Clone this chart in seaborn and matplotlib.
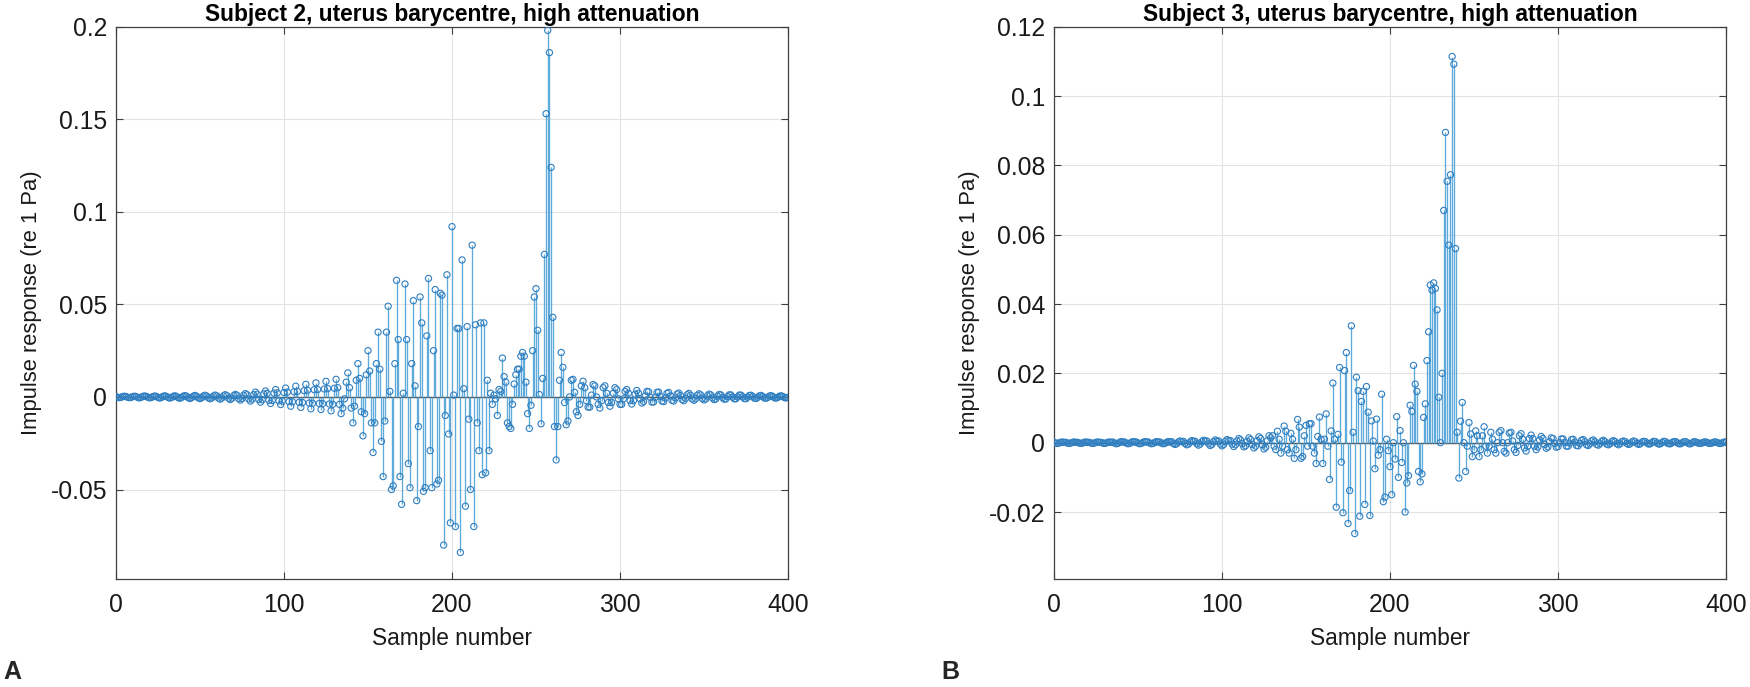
import numpy as np
import pandas as pd
import matplotlib
matplotlib.use("Agg")
import matplotlib.pyplot as plt
import seaborn as sns

# ---------------- data (impulse responses, Pa) ----------------
# Subject 2 (panel A), samples 0..132
subj2_rise = [
    .0002, -.0002, -.0004, -.0002, .0002, .0004, .0002, -.0002, -.0004, -.0002, .0002, .0004,
    .0002, -.0003, -.0005, -.0002, .0003, .0005, .0003, -.0002, -.0005, -.0003, .0002, .0005,
    .0003, -.0003, -.0006, -.0003, .0003, .0006, .0003, -.0003, -.0006, -.0003, .0003, .0006,
    .0003, -.0004, -.0007, -.0003, .0004, .0007, .0004, -.0004, -.0008, -.0004, .0004, .0008,
    .0004, -.0005, -.0009, -.0004, .0005, .0009, .0005, -.0005, -.0010, -.0005, .0005, .0010,
    .0006, -.0006, -.0012, -.0006, .0006, .0012, .0007, -.0007, -.0014, -.0007, .0007, .0014,
    .0009, -.0009, -.0017, -.0009, .0009, .0018, .0012, -.0011, -.0022, -.0012, .0012, .0026,
    .0015, -.0014, -.0028, -.0015, .0016, .0032, .0019, -.0018, -.0035, -.0019, .0021, .0040,
    .0022, -.0021, -.0041, -.0022, .0024, .0048, .0026, -.0025, -.0050, -.0026, .0028, .0058,
    .0030, -.0029, -.0056, -.0030, .0034, .0068, .0036, -.0033, -.0064, -.0034, .0039, .0076,
    .0040, -.0035, -.0068, -.0036, .0043, .0084, .0045, -.0038, -.0075, -.0040, .0047, .0095,
    .0050,
]
# Subject 2, samples 133..270
subj2_main = [
    -0.004, -0.009, -0.006, -0.001, 0.008, 0.013, 0.005, -0.006, -0.014, -0.005,
    0.009, 0.018, 0.010, -0.008, -0.021, -0.009, 0.012, 0.025, 0.014, -0.014,
    -0.030, -0.014, 0.018, 0.035, 0.015, -0.024, -0.043, -0.013, 0.035, 0.049,
    0.003, -0.050, -0.048, 0.018, 0.063, 0.031, -0.043, -0.058, 0.002, 0.061,
    0.031, -0.036, -0.049, 0.018, 0.052, 0.006, -0.056, -0.016, 0.054, 0.040,
    -0.051, -0.049, 0.033, 0.064, -0.029, -0.049, 0.025, 0.058, -0.047, -0.045,
    0.056, 0.055, -0.080, -0.010, 0.066, -0.020, -0.068, 0.092, 0.001, -0.070,
    0.037, 0.037, -0.084, 0.074, 0.0045, -0.059, 0.038, -0.012, -0.050, 0.082,
    -0.070, 0.039, -0.014, -0.029, 0.040, -0.042, 0.040, -0.041, 0.009, -0.029,
    0.002, -0.004, 0.001, -0.001, -0.010, 0.004, 0.003, 0.021, 0.011, 0.008,
    -0.014, -0.016, -0.017, -0.004, 0.007, 0.012, 0.015, 0.015, 0.022, 0.024,
    0.022, 0.008, -0.009, -0.017, -0.0045, 0.025, 0.054, 0.0585, 0.036, 0.0013,
    -0.0145, 0.010, 0.077, 0.153, 0.198, 0.186, 0.124, 0.043, -0.016, -0.034,
    -0.016, 0.009, 0.024, 0.016, -0.003, -0.015, -0.013, 0.000,
]
# Subject 2, samples 271..400
subj2_decay = [
    0.009, 0.0095, 0.0025, -0.008, -0.010, -0.004, 0.006, 0.0085, 0.005, -0.002,
    -0.0055, -0.0055, 0.001, 0.0067, 0.006, 0.000, -0.004, -0.006, -0.002, 0.005,
    0.006, 0.002, -0.003, -0.005, -0.003, 0.002, 0.005, 0.004, -0.001, -0.004,
    -0.004, -0.001, 0.003, 0.004, 0.002, -0.002, -0.0038, -0.002, 0.0015, 0.0035,
    0.002, -0.001, -0.0033, -0.0025, 0.0005, 0.003, 0.0028, -0.0002, -0.0028, -0.0027,
    -0.0002, 0.0025, 0.0026, 0.0003, -0.0022, -0.0025, -0.0005, 0.002, 0.0024, 0.0006,
    -0.0018, -0.0022, -0.0006, 0.0016, 0.0021, 0.0008, -0.0014, -0.002, -0.0008, 0.0012,
    0.0019, 0.0009, -0.0011, -0.0018, -0.001, 0.0009, 0.0017, 0.0011, -0.0008, -0.0016,
    -0.0011, 0.0006, 0.0015, 0.0011, -0.0005, -0.0014, -0.0011, 0.0004, 0.0013, 0.0011,
    -0.0003, -0.0012, -0.0011, 0.0002, 0.0011, 0.0011, -0.0001, -0.001, -0.001, 0.0,
    0.001, 0.001, 0.0001, -0.0009, -0.0009, -0.0001, 0.0008, 0.0009, 0.0002, -0.0007,
    -0.0008, -0.0002, 0.0006, 0.0008, 0.0002, -0.0006, -0.0007, -0.0002, 0.0005, 0.0007,
    0.0002, -0.0005, -0.0006, -0.0002, 0.0004, 0.0006, 0.0002, -0.0004, -0.0005, -0.0002,
]

# Subject 3 (panel B), samples 0..129
subj3_rise = [
    0.0001, -0.0001, -0.0002, -0.0001, 0.0001, 0.0002, 0.0001,
    0.0001, -0.0001, -0.0002, -0.0001, 0.0001, 0.0002, 0.0001,
    0.0001, -0.0001, -0.0002, -0.0001, 0.0001, 0.0002, 0.0001,
    0.0001, -0.0001, -0.0002, -0.0001, 0.0001, 0.0002, 0.0001,
    0.0001, -0.0001, -0.0002, -0.0001, 0.0001, 0.0002, 0.0001,
    0.0002, -0.0001, -0.0003, -0.0002, 0.0001, 0.0003, 0.0002,
    0.0002, -0.0001, -0.0003, -0.0002, 0.0001, 0.0003, 0.0002,
    0.0002, -0.0001, -0.0003, -0.0002, 0.0001, 0.0003, 0.0002,
    0.0002, -0.0001, -0.0003, -0.0002, 0.0001, 0.0003, 0.0002,
    0.0002, -0.0001, -0.0003, -0.0002, 0.0001, 0.0003, 0.0002,
    0.0003, -0.0002, -0.0005, -0.0003, 0.0002, 0.0005, 0.0003,
    0.0004, -0.0002, -0.0006, -0.0004, 0.0002, 0.0006, 0.0004,
    0.0004, -0.0003, -0.0007, -0.0004, 0.0003, 0.0007, 0.0005,
    0.0005, -0.0003, -0.0008, -0.0005, 0.0003, 0.0008, 0.0005,
    0.0005, -0.0004, -0.0009, -0.0005, 0.0004, 0.0009, 0.0006,
    0.0006, -0.0004, -0.0011, -0.0006, 0.0005, 0.0012, 0.0008, -0.0003, -0.0012, -0.0009,
    0.0004, 0.0014, 0.0009, -0.0005, -0.0015, -0.001, 0.0006, 0.0017, 0.0012, -0.0006,
    -0.0018, -0.0013, 0.0006, 0.002, 0.0014,
]
# Subject 3, samples 130..260
subj3_main = [
    0.002, -0.001, -0.002, 0.0033, 0.001, -0.003, -0.001, 0.0048, 0.0033, -0.002,
    -0.003, 0.0027, 0.001, -0.0045, -0.002, 0.0067, 0.0045, -0.0045, -0.004, 0.002,
    0.005, -0.001, 0.0055, 0.0055, -0.001, -0.003, -0.006, 0.0018, 0.0074, 0.001,
    -0.006, 0.001, 0.0083, -0.001, -0.0106, 0.0034, 0.0172, 0.001, -0.0186, 0.0024,
    0.0217, -0.0056, -0.0202, 0.0208, 0.026, -0.0233, -0.0138, 0.0337, 0.003, -0.0262,
    0.0189, 0.015, -0.0212, 0.0119, 0.0148, -0.0178, 0.0162, 0.0088, -0.021, 0.0063,
    0.0005, -0.0075, 0.0068, -0.0036, -0.002, 0.014, -0.017, -0.0157, 0.001, -0.0023,
    -0.0069, -0.015, 0.000, -0.0047, 0.0075, -0.010, 0.0035, -0.0057, 0.000, -0.020,
    -0.0116, -0.0095, 0.0108, 0.009, 0.0223, 0.0169, 0.0148, -0.0083, -0.0113, -0.009,
    0.0073, 0.0112, 0.0237, 0.032, 0.0455, 0.044, 0.0461, 0.0445, 0.0383, 0.0131,
    0.000, 0.020, 0.067, 0.0895, 0.0754, 0.057, 0.0773, 0.1114, 0.1092, 0.056,
    0.003, -0.0102, 0.0062, 0.0116, 0.000, -0.0083, -0.001, 0.0058, 0.0025, -0.004,
    -0.002, 0.0034, 0.002, -0.004, -0.002, 0.002, 0.0046, -0.001, -0.003, -0.001,
    0.003,
]
# Subject 3, samples 261..400
subj3_decay = [
    0.001, -0.002, -0.003, 0.000, 0.003, 0.0035, 0.000, -0.0025, -0.003, 0.000,
    0.0028, 0.003, 0.0005, -0.002, -0.0028, -0.0008, 0.002, 0.0026, 0.001, -0.0015,
    -0.0024, -0.001, 0.0012, 0.0022, 0.0012, -0.001, -0.002, -0.0012, 0.0008, 0.0018,
    0.0012, -0.0005, -0.0016, -0.0012, 0.0003, 0.0014, 0.0012, -0.0002, -0.0013, -0.0011,
    0.0, 0.0011, 0.0011, 0.0001, -0.001, -0.001, -0.0001, 0.0009, 0.001, 0.0002,
    -0.0008, -0.0009, -0.0002, 0.0007, 0.0009, 0.0003, -0.0006, -0.0008, -0.0003, 0.0005,
    0.0008, 0.0003, -0.0005, -0.0007, -0.0003, 0.0004, 0.0007, 0.0003, -0.0004, -0.0006,
    -0.0003, 0.0003, 0.0006, 0.0003, -0.0003, -0.0006, -0.0003, 0.0003, 0.0005, 0.0003,
    -0.0002, -0.0005, -0.0003, 0.0002, 0.0005, 0.0003, -0.0002, -0.0005, -0.0003, 0.0002,
    0.0004, 0.0003, -0.0001, -0.0004, -0.0003, 0.0001, 0.0004, 0.0003, -0.0001, -0.0004,
    -0.0003, 0.0001, 0.0004, 0.0003, -0.0001, -0.0003, -0.0003, 0.0001, 0.0003, 0.0003,
    0.0, -0.0003, -0.0003, 0.0, 0.0003, 0.0003, 0.0, -0.0003, -0.0003, 0.0,
    0.0003, 0.0002, 0.0, -0.0002, -0.0002, 0.0, 0.0002, 0.0002, 0.0, -0.0002,
    -0.0002, 0.0, 0.0002, 0.0002, 0.0, -0.0002, -0.0002, 0.0, 0.0002, 0.0002,
]

subj2 = subj2_rise + subj2_main + subj2_decay
subj3 = subj3_rise + subj3_main + subj3_decay
assert len(subj2) == 401, len(subj2)
assert len(subj3) == 401, len(subj3)

titles = ["Subject 2, uterus barycentre, high attenuation",
          "Subject 3, uterus barycentre, high attenuation"]
ylims = [(-0.0985, 0.2), (-0.0394, 0.12)]
yticks = [[-0.05, 0, 0.05, 0.1, 0.15, 0.2],
          [-0.02, 0, 0.02, 0.04, 0.06, 0.08, 0.1, 0.12]]
xticks = [0, 100, 200, 300, 400]
panel_letters = ["A", "B"]

# ---------------- style ----------------
sns.set_theme(style="white")
plt.rcParams["font.family"] = ["Liberation Sans", "DejaVu Sans"]
plt.rcParams["axes.unicode_minus"] = False

STEM = "#5eaadb"
MARK = "#2f7fc1"
AXC = "#404040"

W, H = 1750, 687
fig = plt.figure(figsize=(W / 100, H / 100), dpi=100)
ax_rects = [
    [116 / W, 1 - 579.3 / H, 672 / W, 552.6 / H],
    [1054 / W, 1 - 579.3 / H, 672 / W, 552.6 / H],
]

for i, vals in enumerate([subj2, subj3]):
    ax = fig.add_axes(ax_rects[i])
    df = pd.DataFrame({"sample": np.arange(len(vals)), "response": vals})
    ax.grid(True, color="#e3e3e3", linewidth=0.8, zorder=0)
    ax.set_axisbelow(True)
    ax.axhline(0, color="#4a4a4a", linewidth=1.0, zorder=2)
    ax.vlines(df["sample"], 0, df["response"], color=STEM, linewidth=0.95, zorder=3)
    sns.scatterplot(data=df, x="sample", y="response", ax=ax, marker="o",
                    s=20, facecolor="none", edgecolor=MARK, linewidth=0.8,
                    zorder=4, legend=False)
    ax.set_xlim(0, 400)
    ax.set_ylim(*ylims[i])
    ax.set_xticks(xticks)
    ax.set_yticks(yticks[i])
    ax.set_yticklabels(["%g" % t for t in yticks[i]])
    ax.set_xticklabels(["%g" % t for t in xticks])
    for sp in ax.spines.values():
        sp.set_visible(True)
        sp.set_color(AXC)
        sp.set_linewidth(0.9)
    ax.tick_params(axis="both", which="both", direction="in", length=5,
                   width=0.8, color=AXC, labelsize=17.8, labelcolor="#1a1a1a",
                   top=True, right=True, bottom=True, left=True)
    ax.tick_params(axis="x", pad=9.9)
    ax.tick_params(axis="y", pad=6.5)
    ax.set_xlabel("Sample number", fontsize=16.3, color="#1a1a1a")
    ax.set_ylabel("Impulse response (re 1 Pa)", fontsize=15.8, color="#1a1a1a")
    ax.xaxis.set_label_coords(0.5, -0.0872)
    ax.yaxis.set_label_coords(-74 / 672, 0.5)
    ax.set_title(titles[i], fontsize=16.4, fontweight="bold", color="black", pad=4.3)

fig.text(12 / W, 1 - 672 / H, panel_letters[0], fontsize=18, fontweight="bold",
         ha="center", va="center")
fig.text(950 / W, 1 - 672 / H, panel_letters[1], fontsize=18, fontweight="bold",
         ha="center", va="center")

fig.savefig("out.png", dpi=100)
